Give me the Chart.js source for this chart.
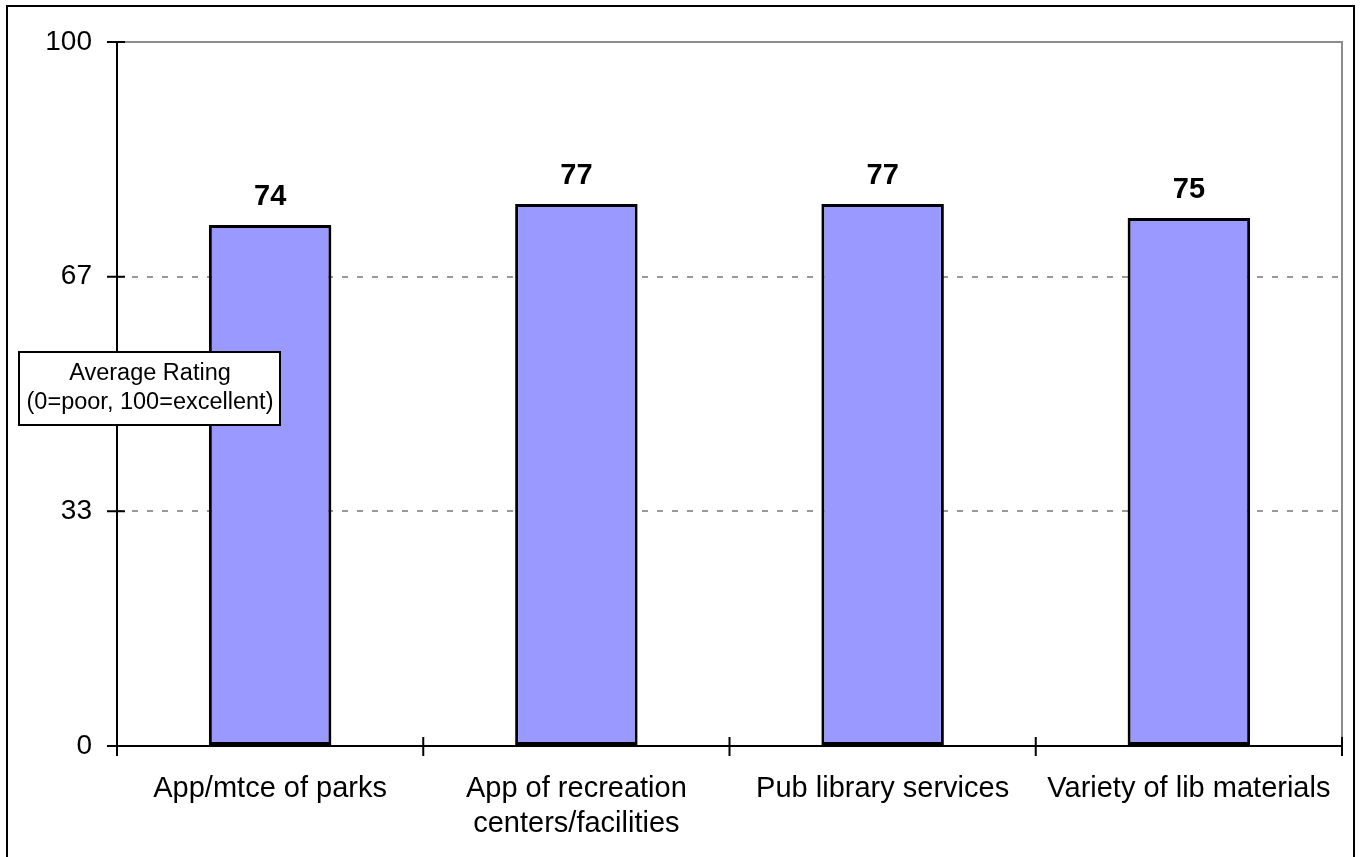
<!DOCTYPE html>
<html>
<head>
<meta charset="utf-8">
<script src="https://cdn.jsdelivr.net/npm/chart.js@4.4.1/dist/chart.umd.min.js"></script>
<style>
    html, body { margin: 0; padding: 0; background: #fff; }
    #wrap { width: 1362px; height: 857px; position: relative; }
</style>
</head>
<body>
<div id="wrap"><canvas id="ratingChart"></canvas></div>
<script>
const categories = [
    "App/mtce of parks",
    ["App of recreation", "centers/facilities"],
    "Pub library services",
    "Variety of lib materials",
];
const ratings = [74, 77, 77, 75];
const yTicks = [0, 100 / 3, 200 / 3, 100];
const noteLines = ["Average Rating", "(0=poor, 100=excellent)"];

const FONT = "'Liberation Sans', Arial, sans-serif";

// frame, plot border, cross ticks, value labels and the note box
const decorations = {
    id: "decorations",
    beforeDraw(chart) {
        const { ctx } = chart;
        ctx.save();
        ctx.strokeStyle = "#000";
        ctx.lineWidth = 2;
        // bottom edge falls just outside the canvas, like the source
        ctx.strokeRect(7, 6, 1347, 860);
        ctx.restore();
    },
    afterDatasetsDraw(chart) {
        const { ctx, chartArea: a, scales } = chart;
        const x = scales.x;
        const y = scales.y;
        ctx.save();

        // plot border top/right (gray)
        ctx.strokeStyle = "#8c8c8c";
        ctx.lineWidth = 2;
        ctx.beginPath();
        ctx.moveTo(a.left, a.top);
        ctx.lineTo(a.right, a.top);
        ctx.lineTo(a.right, a.bottom);
        ctx.stroke();

        // axes
        ctx.strokeStyle = "#000";
        ctx.beginPath();
        ctx.moveTo(a.left, a.top);
        ctx.lineTo(a.left, a.bottom);
        ctx.lineTo(a.right, a.bottom);
        ctx.stroke();

        // y ticks crossing the axis
        ctx.beginPath();
        yTicks.forEach((v) => {
            const py = y.getPixelForValue(v);
            ctx.moveTo(a.left - 10, py);
            ctx.lineTo(a.left + 8, py);
        });
        // x ticks between categories
        const half = (x.getPixelForValue(1) - x.getPixelForValue(0)) / 2;
        for (let i = 0; i <= categories.length; i++) {
            const px = x.getPixelForValue(i) - half;
            ctx.moveTo(px, a.bottom - 9);
            ctx.lineTo(px, a.bottom + 10);
        }
        ctx.stroke();

        // value labels
        ctx.fillStyle = "#000";
        ctx.font = "bold 29px " + FONT;
        ctx.textAlign = "center";
        ctx.textBaseline = "alphabetic";
        chart.getDatasetMeta(0).data.forEach((bar, i) => {
            ctx.fillText(String(ratings[i]), bar.x, bar.y - 20);
        });

        // note box
        ctx.fillStyle = "#fff";
        ctx.fillRect(19, 352, 261, 73);
        ctx.lineWidth = 2;
        ctx.strokeRect(19, 352, 261, 73);
        ctx.fillStyle = "#000";
        ctx.font = "23.5px " + FONT;
        ctx.textBaseline = "middle";
        ctx.fillText(noteLines[0], 150, 374);
        ctx.fillText(noteLines[1], 150, 403);
        ctx.restore();
    },
};

Chart.defaults.font.family = FONT;
Chart.defaults.color = "#000";

new Chart(document.getElementById("ratingChart"), {
    type: "bar",
    data: {
        labels: categories,
        datasets: [
            {
                data: ratings,
                backgroundColor: "#9999FF",
                borderColor: "#000",
                borderWidth: 3,
                borderSkipped: false,
                barPercentage: 0.4,
                categoryPercentage: 1.0,
            },
        ],
    },
    options: {
        responsive: true,
        maintainAspectRatio: false,
        animation: false,
        layout: {
            padding: { left: 0, top: 42, right: 20, bottom: 0 },
        },
        plugins: {
            legend: { display: false },
            tooltip: { enabled: false },
        },
        scales: {
            x: {
                grid: { display: false, offset: true },
                border: { display: false },
                ticks: {
                    font: { size: 29 },
                    padding: 18,
                    maxRotation: 0,
                    autoSkip: false,
                },
                afterFit(scale) {
                    scale.height = 111;
                },
            },
            y: {
                min: 0,
                max: 100,
                afterBuildTicks(scale) {
                    scale.ticks = yTicks.map((v) => ({ value: v }));
                },
                ticks: {
                    font: { size: 28 },
                    padding: 25,
                    callback: (v) => Math.round(v),
                },
                grid: {
                    color: (c) =>
                        c.tick && c.tick.value > 0 && c.tick.value < 100
                            ? "#999999"
                            : "rgba(0,0,0,0)",
                    lineWidth: 2,
                    drawTicks: false,
                },
                border: { display: false, dash: [6, 9] },
                afterFit(scale) {
                    scale.width = 117;
                },
            },
        },
    },
    plugins: [decorations],
});
</script>
</body>
</html>
